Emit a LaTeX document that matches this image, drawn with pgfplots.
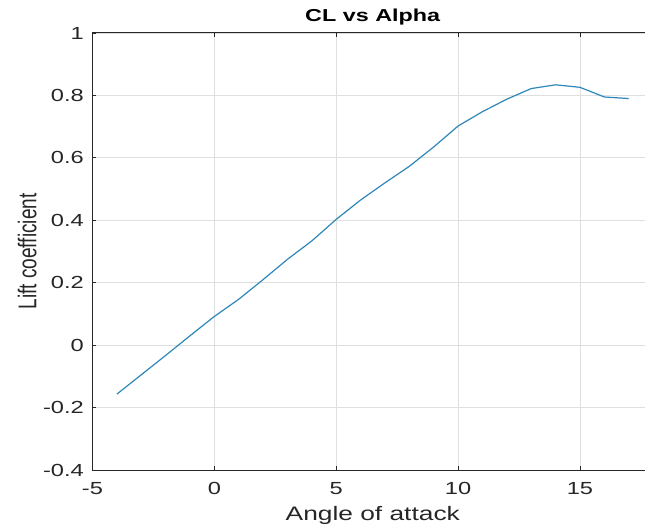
\documentclass[border=0pt]{standalone}
\usepackage{fontspec}
\setmainfont{Liberation Sans}[FakeStretch=1.35]
\newfontfamily\ylabfont{Liberation Sans}
\usepackage{pgfplots}
\pgfplotsset{compat=1.18}

\definecolor{mlblue}{RGB}{45,135,185}
\definecolor{axgray}{RGB}{38,38,38}
\definecolor{gridgray}{RGB}{223,223,223}

\begin{document}
\begin{tikzpicture}
% frame of the picture; the right border of the axis falls outside it
\path[use as bounding box, clip] (-92.5bp,-56bp) rectangle (552.5bp,470bp);
\begin{axis}[
    at={(0,0)}, anchor=south west,
    scale only axis,
    width=560.6bp, height=437bp,
    xmin=-5, xmax=18,
    ymin=-0.4, ymax=1,
    xtick={-5,0,5,10,15},
    ytick={-0.4,-0.2,0,0.2,0.4,0.6,0.8,1},
    /pgf/number format/assume math mode=true,
    tick align=inside,
    major tick length=4bp,
    tick style={axgray, line width=0.8bp},
    axis line style={axgray, line width=1bp},
    grid=major,
    major grid style={gridgray, line width=0.9bp},
    ticklabel style={font=\fontsize{17.5bp}{20bp}\selectfont, text=axgray},
    xticklabel style={inner sep=0pt, yshift=-12bp},
    yticklabel style={inner sep=0pt, xshift=-8.5bp},
    title={\textbf{CL vs Alpha}},
    title style={font=\fontsize{17.3bp}{20bp}\selectfont, at={(axis description cs:0.5,1)}, anchor=base, yshift=6bp},
    xlabel={Angle of attack},
    xlabel style={font=\fontsize{19.5bp}{22bp}\selectfont, text=axgray, at={(axis description cs:0.5,0)}, anchor=base, yshift=-50bp},
    ylabel={\scalebox{1}[1.35]{Lift coefficient}},
    ylabel style={font=\ylabfont\fontsize{19bp}{22bp}\selectfont, text=axgray, at={(axis description cs:-0.1,0.5)}, anchor=base},
]
\addplot[mlblue, line width=1.2bp] coordinates {
    (-4,-0.157) (-3,-0.095) (-2,-0.033) (-1,0.030) (0,0.092)
    (1,0.147) (2,0.210) (3,0.275) (4,0.334) (5,0.403)
    (6,0.465) (7,0.520) (8,0.573) (9,0.635) (10,0.702)
    (11,0.748) (12,0.788) (13,0.822) (14,0.834) (15,0.826)
    (16,0.795) (17,0.790)
};
\end{axis}
\end{tikzpicture}
\end{document}
